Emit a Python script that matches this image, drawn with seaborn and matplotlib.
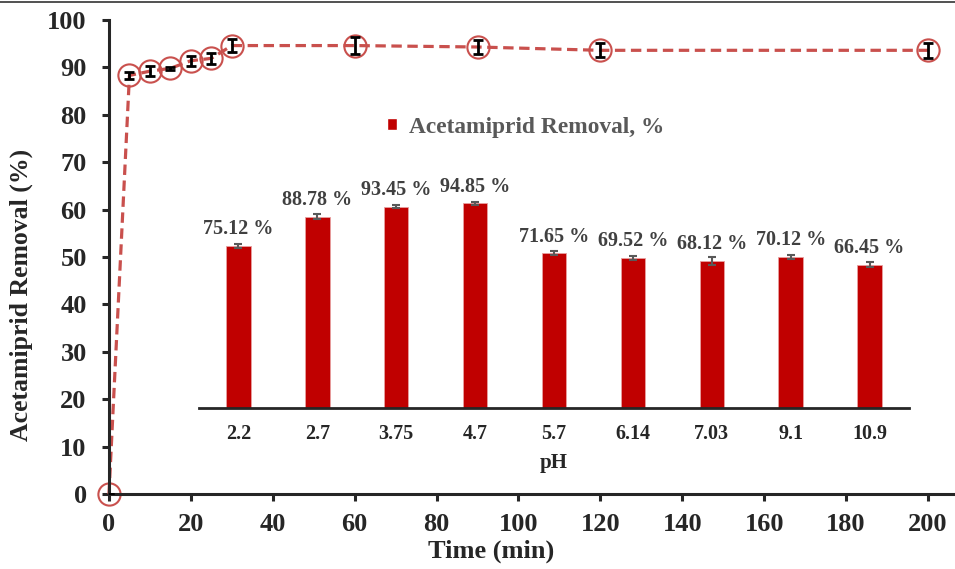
import matplotlib
matplotlib.use("Agg")
import matplotlib.pyplot as plt
from matplotlib.patches import Patch
from matplotlib.lines import Line2D
import seaborn as sns
import pandas as pd

# kinetics (time series)
time_min = [0, 5, 10, 15, 20, 25, 30, 60, 90, 120, 200]
removal = [0, 88.3, 89.2, 89.8, 91.4, 91.9, 94.6, 94.6, 94.3, 93.6, 93.6]
removal_err = [0, 0.8, 1.0, 0.3, 1.1, 1.2, 1.3, 1.8, 1.4, 1.5, 1.6]

# pH effect (inset bars)
ph_labels = ["2.2", "2.7", "3.75", "4.7", "5.7", "6.14", "7.03", "9.1", "10.9"]
ph_removal = [75.12, 88.78, 93.45, 94.85, 71.65, 69.52, 68.12, 70.12, 66.45]
ph_err = [0.8, 1.0, 0.9, 0.8, 0.9, 1.0, 1.8, 1.0, 1.2]

sns.set_style("ticks")
plt.rcParams["font.family"] = ["Liberation Serif", "DejaVu Serif"]
plt.rcParams["font.weight"] = "bold"
plt.rcParams["lines.scale_dashes"] = False

line_red = "#C9504D"
bar_red = "#C00000"

fig = plt.figure(figsize=(9.55, 5.69), dpi=100)
ax = fig.add_axes([0.1141, 0.1318, 0.8859, 0.8331])

df_t = pd.DataFrame({"time": time_min, "removal": removal})
sns.lineplot(data=df_t, x="time", y="removal", ax=ax, color=line_red,
             linewidth=2.3, marker="o", markersize=16, markerfacecolor="none",
             markeredgecolor=line_red, markeredgewidth=1.5, clip_on=False, zorder=2)
ln = ax.lines[0]
ln.set_linestyle("--")
ln.set_dashes((7.5, 4))
ax.errorbar(time_min, removal, yerr=removal_err, fmt="none", ecolor="black",
            elinewidth=2, capsize=3.5, capthick=2, zorder=3)

ax.set_xlim(0, 206.6)
ax.set_ylim(0, 100)
ax.set_xticks(range(0, 201, 20))
ax.set_yticks(range(0, 101, 10))
sns.despine(ax=ax)
for s in ["left", "bottom"]:
    ax.spines[s].set_linewidth(2.2)
ax.tick_params(axis="both", labelsize=19, width=2.2, length=5)
ax.tick_params(axis="x", pad=9)
ax.tick_params(axis="y", pad=11)
ax.set_xlabel("Time (min)", fontsize=19, fontweight="bold")
ax.set_ylabel("Acetamiprid Removal (%)", fontsize=18.5, fontweight="bold")
ax.xaxis.set_label_coords(0.4515, -0.097)
ax.yaxis.set_label_coords(-0.0898, 0.42)

# inset bar chart
ax_in = fig.add_axes([0.2084, 0.2835, 0.7435, 0.5297])
ax_in.patch.set_alpha(0)
df_ph = pd.DataFrame({"pH": ph_labels, "removal": ph_removal})
sns.barplot(data=df_ph, x="pH", y="removal", ax=ax_in, color=bar_red,
            saturation=1, width=0.31, errorbar=None, edgecolor="#e8a0a0", linewidth=0.6)
ax_in.errorbar(range(len(ph_labels)), ph_removal, yerr=ph_err, fmt="none",
               ecolor="#595959", elinewidth=1.5, capsize=3, capthick=1.5)
for i, v in enumerate(ph_removal):
    ax_in.annotate(f"{v:.2f} %", (i, v), xytext=(0, 12), textcoords="offset points",
                   ha="center", va="center", fontsize=14.5, fontweight="bold",
                   color="#404040")
ax_in.set_xlim(-0.5, 8.5)
ax_in.set_ylim(0, 140)
ax_in.set_yticks([])
sns.despine(ax=ax_in, left=True)
ax_in.spines["bottom"].set_linewidth(2)
ax_in.tick_params(axis="x", length=0, labelsize=14.5, pad=12)
ax_in.set_xlabel("pH", fontsize=15, fontweight="bold", labelpad=6)
ax_in.set_ylabel("")

ax_in.legend(handles=[Patch(facecolor=bar_red, label="Acetamiprid Removal, %")],
             loc="center", bbox_to_anchor=(0.5503, 0.7768), bbox_transform=fig.transFigure,
             frameon=False, handlelength=0.45, handleheight=0.45, handletextpad=0.5,
             prop={"size": 16.8, "weight": "bold"}, labelcolor="#595959")

# thin border line at the top of the image
fig.add_artist(Line2D([0, 1], [0.996, 0.996], transform=fig.transFigure,
                      color="#333333", linewidth=1.2))

fig.savefig("out.png", dpi=100)
